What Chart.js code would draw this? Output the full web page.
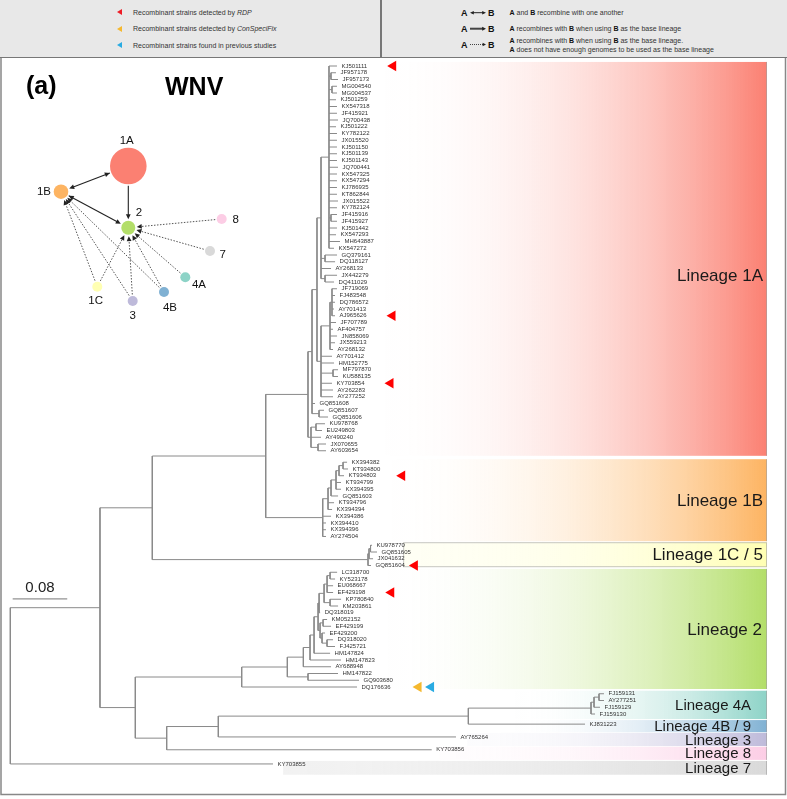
<!DOCTYPE html>
<html><head><meta charset="utf-8">
<script src="https://cdn.jsdelivr.net/npm/chart.js@4.4.1/dist/chart.umd.min.js"></script>
<style>
html,body{margin:0;padding:0;background:#fff;}
#wrap{position:relative;width:787px;height:799px;overflow:hidden;font-family:"Liberation Sans",Arial,sans-serif;}
#c{position:absolute;left:0;top:0;}
#hdr{position:absolute;left:0;top:0;width:787px;height:58px;background:#e8e8e8;border-bottom:1.5px solid #777;box-sizing:border-box;}
#vdiv{position:absolute;left:380px;top:0;width:1.5px;height:57px;background:#777;}
.t{position:absolute;font-size:7px;line-height:8px;color:#333;white-space:nowrap;}
.t b{color:#111;}
.tri{position:absolute;width:0;height:0;border-top:3.5px solid transparent;border-bottom:3.5px solid transparent;border-right:5.5px solid #000;}
.ab{position:absolute;font-size:9px;line-height:10px;font-weight:bold;color:#111;}
</style>
</head><body>
<div id="wrap">
<canvas id="c" width="787" height="799"></canvas>
<div id="hdr">
  <div class="tri" style="left:117px;top:9.2px;border-right-color:#ee1c25"></div>
  <div class="t" style="left:133px;top:8.7px">Recombinant strains detected by <i>RDP</i></div>
  <div class="tri" style="left:117px;top:25.8px;border-right-color:#f5b82e"></div>
  <div class="t" style="left:133px;top:25.3px">Recombinant strains detected by <i>ConSpeciFix</i></div>
  <div class="tri" style="left:117px;top:42.2px;border-right-color:#29abe2"></div>
  <div class="t" style="left:133px;top:41.7px">Recombinant strains found in previous studies</div>
  <div id="vdiv"></div>
  <div class="ab" style="left:461px;top:7.7px">A</div><div class="ab" style="left:488px;top:7.7px">B</div>
  <div class="ab" style="left:461px;top:23.7px">A</div><div class="ab" style="left:488px;top:23.7px">B</div>
  <div class="ab" style="left:461px;top:39.5px">A</div><div class="ab" style="left:488px;top:39.5px">B</div>
  <svg style="position:absolute;left:469px;top:0" width="20" height="57">
    <line x1="3" y1="12.7" x2="15" y2="12.7" stroke="#222" stroke-width="1"/>
    <polygon points="1,12.7 4.8,10.9 4.8,14.5" fill="#222"/>
    <polygon points="17,12.7 13.2,10.9 13.2,14.5" fill="#222"/>
    <line x1="1" y1="28.7" x2="14" y2="28.7" stroke="#444" stroke-width="2"/>
    <polygon points="17,28.7 13.2,26.7 13.2,30.7" fill="#222"/>
    <line x1="1" y1="44.5" x2="14" y2="44.5" stroke="#444" stroke-width="1" stroke-dasharray="1,1"/>
    <polygon points="17,44.5 13.6,42.8 13.6,46.2" fill="#222"/>
  </svg>
  <div class="t" style="left:509.5px;top:8.7px"><b>A</b> and <b>B</b> recombine with one another</div>
  <div class="t" style="left:509.5px;top:24.7px"><b>A</b> recombines with <b>B</b> when using <b>B</b> as the base lineage</div>
  <div class="t" style="left:509.5px;top:36.7px"><b>A</b> recombines with <b>B</b> when using <b>B</b> as the base lineage.</div>
  <div class="t" style="left:509.5px;top:45.7px"><b>A</b> does not have enough genomes to be used as the base lineage</div>
</div>
</div>
<script>
// ---------------- DATA ----------------
// Backbone of the WNV tree (branch lengths in substitutions/site); {key} = lineage clade
const backbone = "(((({1A}:0.0620,{1B}:0.0836):0.1663,{1C}:0.3163):0.0767,({2}:0.1560,((({4A}:0.1799,{4B}:0.1711):0.3666,{3}:0.3485):0.0757,{8}:0.3886):0.0460):0.0518):0.1315,{7}:0.3852);";

const clade1A_comb = "(KJ501111:0.0117,(JF957178:0.0073,JF957173:0.0103):0.0029,(MG004540:0.0073,MG004537:0.0073):0.0044,KJ501259:0.0103,KX547318:0.0117,JF415921:0.0117,JQ700438:0.0132,KJ501222:0.0103,KY782122:0.0117,JX015520:0.0117,KJ501150:0.0117,KJ501139:0.0117,KJ501143:0.0117,JQ700441:0.0132,KX547325:0.0117,KX547294:0.0117,KJ786935:0.0117,KT862844:0.0117,JX015522:0.0132,KY782124:0.0117,(JF415916:0.0088,JF415927:0.0088):0.0029,KJ501442:0.0117,KX547293:0.0103,MH643887:0.0161,KX547272:0.0073)";
const clade1A_top = "(" + clade1A_comb + ":0.0117,(GQ379161:0.0176,DQ118127:0.0147):0.0059,AY268133:0.0147,(JX442279:0.0176,DQ411029:0.0132):0.0059)";
const clade1A_mid = "(((JF719069:0.0073,FJ483548:0.0044,DQ786572:0.0044,AY701413:0.0029,AJ965626:0.0044):0.0029,JF707789:0.0088,AF404757:0.0044,JN858069:0.0103,JX559213:0.0073,AY268132:0.0044):0.0132,AY701412:0.0161,HM152775:0.0191,(MF797870:0.0073,KU588135:0.0073):0.0176,KY703854:0.0161,AY262283:0.0176,AY277252:0.0176)";
const clade1A_bot = "((KU978768:0.0132,EU249803:0.0088):0.0073,AY490240:0.0147,(JX070655:0.0117,AY603654:0.0117):0.0103)";
const clade1A = "(((" + clade1A_top + ":0.0059," + clade1A_mid + ":0.0059):0.0073,GQ851608:0.0044,(GQ851607:0.0073,GQ851606:0.0132):0.0103):0.0059," + clade1A_bot + ":0.0044)";
const clade1B = "((((((KX394382:0.0059,KT934800:0.0073):0.0059,KT934803:0.0073):0.0044,KT934799:0.0073,KX394395:0.0073):0.0073,GQ851603:0.0103):0.0044,KT934796:0.0088,KX394394:0.0059):0.0078,KX394386:0.0122,KX394410:0.0048,KX394396:0.0048,AY274504:0.0048)";
const clade1C = "(((KU978770:0.0022,GQ851605:0.0095):0.0022,JX041632:0.0059):0.0015,GQ851604:0.0044)";
const clade2_top = "((((LC318700:0.0103,KY523178:0.0073):0.0044,EU068667:0.0088,EF429198:0.0088):0.0044,(KP780840:0.0161,KM203861:0.0117):0.0088):0.0073,DQ318019:0.0015)";
const clade2_mid = "((KM052152:0.0059,EF429199:0.0117):0.0044,(EF429200:0.0044,(DQ318020:0.0088,FJ425721:0.0117):0.0073):0.0029)";
const clade2 = "((((((" + clade2_top + ":0.0015," + clade2_mid + ":0.0029):0.0059,HM147824:0.0235):0.0059,HM147823:0.0454):0.0098,AY688948:0.0406):0.0235,(HM147822:0.0440,GQ903680:0.0748):0.0303):0.0669,DQ176636:0.1691)";
const clade4A = "(((FJ159131:0.0073,AY277251:0.0073):0.0073,FJ159129:0.0088):0.0044,FJ159130:0.0059)";
const clade4B = "KJ831223";
const clade3 = "AY765264";
const clade8 = "KY703856";
const clade7 = "KY703855";

const lineageKeys   = ['1A','1B','1C','2','4A','4B','3','8','7'];
const lineageLabels = ['Lineage 1A','Lineage 1B','Lineage 1C / 5','Lineage 2','Lineage 4A','Lineage 4B / 9','Lineage 3','Lineage 8','Lineage 7'];
const lineageClades = [clade1A, clade1B, clade1C, clade2, clade4A, clade4B, clade3, clade8, clade7];

// recombinant strains
const rdpTips = ['KJ501111','AJ965626','KY703854','KT934803','GQ851604','EF429198'];
const conspecifixTips = ['DQ176636'];
const previousTips = ['DQ176636'];

// recombination network between lineages
const netNodes = ['1A','1B','2','8','7','4A','4B','3','1C'];
const netX = [0, -67.3, 0, 93.4, 81.7, 57, 35.7, 4.4, -31];
const netY = [0, 25.7, 61.7, 53, 85, 111.3, 126, 135, 120.7];
const netSize = [18.3, 7.3, 7, 5, 5, 5, 5, 5, 5];
const netEdges = [
  ['1A','1B','both'], ['1A','2','solid'], ['1B','2','both'],
  ['8','2','dotted'], ['7','2','dotted'], ['4A','2','dotted'], ['4B','2','dotted'],
  ['3','2','dotted'], ['1C','2','dotted'], ['1C','1B','dotted'], ['3','1B','dotted'], ['4B','1B','dotted']
];
const scaleBarValue = 0.08;

// ---------------- STYLE / LAYOUT ----------------
const lineageColor = ['#fb8072','#fdb462','#ffffb3','#b3de69','#8dd3c7','#80b1d3','#bebada','#fccde5','#d9d9d9'];
const netColor = {'1A':'#fb8072','1B':'#fdb462','2':'#b3de69','8':'#fccde5','7':'#d9d9d9','4A':'#8dd3c7','4B':'#80b1d3','3':'#bebada','1C':'#ffffb3'};
const slotGap    = [0, 0.7, 0.3, 0, 0, 0.5, 0.9, 0.9, 1.1];
const boxPadTop  = [0.6,0.45,0.45,0.5,0.45,0.6,0.6,0.45,0.45];
const boxPadBot  = [0.75,0.7,0.25,0.3,0.75,1.2,1.35,1.5,1.6];
const boxLeft    = [0.520,0.530,0.576,0.525,0.72,0.72,0.67,0.63,0.40];
const boxFloor   = [0,0,0.15,0,0,0,0.05,0.05,0.35];
const boxOutline = [false,false,true,false,false,false,false,false,false];
const labelShift = [2.4,0,0,0,0,0,0,0,0];
const labelSize  = [17,17,17,17,15,15,15,15,15];
const labelRight = [763,763,763,762,751,751,751,751,751];
const rdpGap     = [20,20,20,20,4,20];
const netLabelDX = {'1A':-1.6,'1B':-17,'2':10.7,'8':14,'7':12.7,'4A':13.7,'4B':6,'3':0,'1C':-1.6};
const netLabelDY = {'1A':-25,'1B':0,'2':-14.7,'8':1,'7':4,'4A':7.7,'4B':16,'3':15,'1C':14.3};

// ---------------- TREE BUILD ----------------
function parseNewick(str){
  const s = str.replace(/\s+/g,'');
  let i = 0;
  function node(){
    const n = {name:'', len:0, children:[]};
    if (s[i] === '('){
      i++;
      n.children.push(node());
      while (s[i] === ','){ i++; n.children.push(node()); }
      i++;
    }
    let name=''; while (i<s.length && '(),:;'.indexOf(s[i])<0) name+=s[i++];
    n.name = name;
    if (s[i] === ':'){ i++; let num=''; while (i<s.length && '(),;'.indexOf(s[i])<0) num+=s[i++]; n.len = parseFloat(num); }
    return n;
  }
  return node();
}
const fullNewick = backbone.replace(/\{(\w+)\}/g, (m,k) => lineageClades[lineageKeys.indexOf(k)]);
const tipLin = {};
lineageClades.forEach((c,li) => (c.match(/[A-Z]{2}\d{6}/g)||[]).forEach(n => tipLin[n] = li));
const root = parseNewick(fullNewick);
root.len = 0;
const tips = [];
let slot = 0, prevLin = -1;
function layout(n, x0){
  n.x = x0 + n.len;
  if (!n.children.length){
    const li = tipLin[n.name];
    if (prevLin >= 0) slot += 1 + (li !== prevLin ? slotGap[li] : 0);
    n.y = slot; n.lin = li; prevLin = li; tips.push(n);
  } else {
    n.children.forEach(c => layout(c, n.x));
    n.y = (n.children[0].y + n.children[n.children.length-1].y)/2;
  }
}
layout(root, 0);
const seg = [];
function segs(n){
  if (!n.children.length) return;
  const c0 = n.children[0], cl = n.children[n.children.length-1];
  seg.push({x:n.x,y:c0.y},{x:n.x,y:cl.y},{x:n.x,y:null});
  n.children.forEach(c => { seg.push({x:n.x,y:c.y},{x:c.x,y:c.y},{x:c.x,y:null}); segs(c); });
}
segs(root);
const linFirst = [], linLast = [];
tips.forEach(t => { if (linFirst[t.lin]===undefined) linFirst[t.lin]=t.y; linLast[t.lin]=t.y; });
const tipByName = {}; tips.forEach(t => tipByName[t.name]=t);

const netData = netNodes.map((k,i) => ({x:netX[i], y:netY[i], r:netSize[i]}));

function hexRgb(h){ return [1,3,5].map(i=>parseInt(h.substr(i,2),16)); }
const FONT = '"Liberation Sans", Arial, sans-serif';

function arrowHead(ctx, x, y, ang, len, w){
  ctx.beginPath();
  ctx.moveTo(x, y);
  ctx.lineTo(x - len*Math.cos(ang) + w*Math.sin(ang), y - len*Math.sin(ang) - w*Math.cos(ang));
  ctx.lineTo(x - len*Math.cos(ang) - w*Math.sin(ang), y - len*Math.sin(ang) + w*Math.cos(ang));
  ctx.closePath(); ctx.fill();
}

const treePlugin = {
  id:'treeDeco',
  beforeDatasetsDraw(chart){
    const ctx = chart.ctx, xs = chart.scales.x, ys = chart.scales.y;
    const right = 767;
    ctx.save();
    lineageKeys.forEach((k,li) => {
      const top = ys.getPixelForValue(linFirst[li]-boxPadTop[li]);
      const bot = ys.getPixelForValue(linLast[li]+boxPadBot[li]);
      const left = xs.getPixelForValue(boxLeft[li]);
      const [r,g,b] = hexRgb(lineageColor[li]);
      const grad = ctx.createLinearGradient(left,0,right,0);
      const f = boxFloor[li];
      for (let s=0; s<=10; s++){ const t=s/10; grad.addColorStop(t, `rgba(${r},${g},${b},${(f + (1-f)*Math.pow(t,2.3)).toFixed(3)})`); }
      ctx.fillStyle = grad;
      ctx.fillRect(left, top, right-left, bot-top);
      ctx.strokeStyle = 'rgba(160,160,160,0.6)'; ctx.lineWidth = 1;
      if (boxOutline[li]) { ctx.strokeRect(left+0.5, top+0.5, right-left-1, bot-top-1); }
      else { ctx.beginPath(); ctx.moveTo(right-0.5, top); ctx.lineTo(right-0.5, bot); ctx.stroke(); }
    });
    ctx.strokeStyle = '#888'; ctx.lineWidth = 1.5;
    ctx.beginPath(); ctx.moveTo(1, 57); ctx.lineTo(1, 794.5); ctx.lineTo(785.5, 794.5); ctx.lineTo(785.5, 57); ctx.stroke();
    const nx = chart.scales.nx, ny = chart.scales.ny;
    const pos = {}; netNodes.forEach((k,i) => pos[k] = {x:nx.getPixelForValue(netX[i]), y:ny.getPixelForValue(netY[i]), r:netSize[i]});
    netEdges.forEach(([a,b,st]) => {
      const A = pos[a], B = pos[b];
      const ang = Math.atan2(B.y-A.y, B.x-A.x), c = Math.cos(ang), s = Math.sin(ang);
      const sx = A.x + (A.r+1.5)*c, sy = A.y + (A.r+1.5)*s, ex = B.x - (B.r+1.5)*c, ey = B.y - (B.r+1.5)*s;
      ctx.strokeStyle = st==='dotted' ? '#555' : '#222'; ctx.fillStyle = '#222';
      ctx.lineWidth = st==='dotted' ? 1 : 1.1;
      ctx.setLineDash(st==='dotted' ? [1.5,1.5] : []);
      ctx.beginPath(); ctx.moveTo(sx,sy); ctx.lineTo(ex - 3*c, ey - 3*s); ctx.stroke();
      ctx.setLineDash([]);
      arrowHead(ctx, ex, ey, ang, 5, 2.4);
      if (st==='both') arrowHead(ctx, sx, sy, ang+Math.PI, 5, 2.4);
    });
    ctx.restore();
  },
  afterDatasetsDraw(chart){
    const ctx = chart.ctx, xs = chart.scales.x, ys = chart.scales.y;
    ctx.save();
    ctx.font = '6px ' + FONT; ctx.fillStyle = '#333'; ctx.textBaseline = 'middle'; ctx.textAlign = 'left';
    const labelEnd = {};
    tips.forEach(t => {
      const px = xs.getPixelForValue(t.x) + 4.5, py = ys.getPixelForValue(t.y);
      ctx.fillText(t.name, px, py);
      labelEnd[t.name] = px + ctx.measureText(t.name).width;
    });
    function marker(name, color, off){
      const t = tipByName[name]; if (!t) return;
      ctx.fillStyle = color;
      Chart.helpers.drawPoint(ctx, {pointStyle:'triangle', radius:6, rotation:-90, borderWidth:0}, labelEnd[name] + off + 6, ys.getPixelForValue(t.y));
    }
    rdpTips.forEach((n,i) => marker(n, '#ff0000', rdpGap[i]));
    conspecifixTips.forEach(n => marker(n, '#f5b82e', 22));
    previousTips.forEach(n => marker(n, '#29abe2', 34.5));
    ctx.fillStyle = '#1a1a1a'; ctx.textAlign = 'right'; ctx.textBaseline = 'middle';
    lineageKeys.forEach((k,li) => {
      const top = ys.getPixelForValue(linFirst[li]-boxPadTop[li]);
      const bot = ys.getPixelForValue(linLast[li]+boxPadBot[li]);
      const y = (top+bot)/2 + labelShift[li]*(ys.getPixelForValue(1)-ys.getPixelForValue(0));
      ctx.font = labelSize[li] + 'px ' + FONT;
      ctx.fillText(lineageLabels[li], labelRight[li], y + 1);
    });
    const sbY = ys.getPixelForValue(78.95);
    const x0 = xs.getPixelForValue(0.0035), x1 = xs.getPixelForValue(0.0035 + scaleBarValue);
    ctx.strokeStyle = '#777'; ctx.lineWidth = 1;
    ctx.beginPath(); ctx.moveTo(x0, sbY); ctx.lineTo(x1, sbY); ctx.stroke();
    ctx.fillStyle = '#222'; ctx.font = '15px ' + FONT; ctx.textAlign = 'center'; ctx.textBaseline = 'alphabetic';
    ctx.fillText(scaleBarValue.toFixed(2), (x0+x1)/2, sbY - 7);
    ctx.textAlign = 'left'; ctx.fillStyle = '#000'; ctx.font = 'bold 25px ' + FONT;
    ctx.fillText('(a)', 26, 94);
    ctx.fillText('WNV', 165, 95);
    const nx = chart.scales.nx, ny = chart.scales.ny;
    ctx.font = '11.5px ' + FONT; ctx.fillStyle = '#111'; ctx.textAlign = 'center'; ctx.textBaseline = 'middle';
    netNodes.forEach((k,i) => {
      ctx.fillText(k, nx.getPixelForValue(netX[i]) + netLabelDX[k], ny.getPixelForValue(netY[i]) + netLabelDY[k]);
    });
    ctx.restore();
  }
};

new Chart(document.getElementById('c').getContext('2d'), {
  type:'line',
  data:{ datasets:[
    {type:'line', data:seg, xAxisID:'x', yAxisID:'y', borderColor:'#8a8a8a', borderWidth:1, pointRadius:0, fill:false, spanGaps:false, tension:0, order:2},
    {type:'bubble', data:netData, xAxisID:'nx', yAxisID:'ny', backgroundColor:netNodes.map(k=>netColor[k]), borderWidth:0, order:1}
  ]},
  options:{
    responsive:false, animation:false, events:[],
    layout:{padding:0, autoPadding:false},
    plugins:{legend:{display:false}, tooltip:{enabled:false}, title:{display:false}},
    scales:{
      x:{type:'linear', display:false, min:-10.3/682, max:(787-10.3)/682},
      y:{type:'linear', display:false, reverse:true, min:-66/6.75, max:(799-66)/6.75},
      nx:{type:'linear', axis:'x', display:false, min:-128.3, max:787-128.3},
      ny:{type:'linear', axis:'y', display:false, reverse:true, min:-166, max:799-166}
    }
  },
  plugins:[treePlugin]
});
</script>
</body></html>
